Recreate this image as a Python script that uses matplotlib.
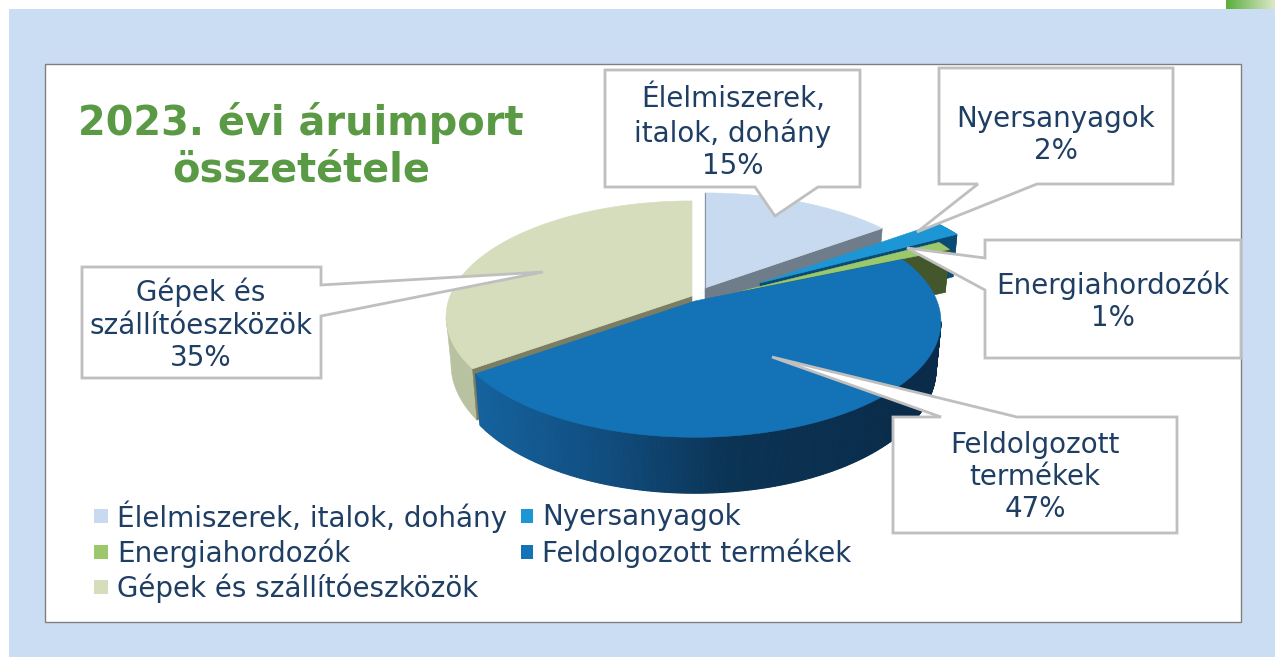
import numpy as np
import matplotlib
matplotlib.use("Agg")
import matplotlib.pyplot as plt
from matplotlib.patches import Polygon, Rectangle
from matplotlib.colors import to_rgb

categories = ["Élelmiszerek, italok, dohány", "Nyersanyagok", "Energiahordozók",
              "Feldolgozott termékek", "Gépek és szállítóeszközök"]
values = [15, 2.2, 1.3, 46.6, 34.9]
callout_names = ["Élelmiszerek,\nitalok, dohány", "Nyersanyagok", "Energiahordozók",
                 "Feldolgozott\ntermékek", "Gépek és\nszállítóeszközök"]
title_text = "2023. évi áruimport\nösszetétele"

top_cols = ["#C8DAEF", "#1C96D4", "#9AC86A", "#1472B6", "#D5DDBC"]
wall_cols = ["#6F7C8A", "#0B4A74", "#44562B", "#14609C", "#B9C2A0"]
centers = [(705, 288), (760, 283), (742, 291), (695, 301), (692, 296)]
TXT = "#1F3E64"
A, B, P, H = 242, 112, 0.178, 46

fig = plt.figure(figsize=(12.75, 6.57), dpi=100, facecolor="white")
ax = fig.add_axes([0, 0, 1, 1])
ax.set_xlim(0, 1275); ax.set_ylim(657, 0); ax.axis("off")

# page background
ax.add_patch(Rectangle((9, 9), 1266, 648, fc="#CBDDF2", ec="none", zorder=0))
ax.imshow(np.linspace(0, 1, 64)[None, :, None] * (np.array(to_rgb("#DDE8C8")) - np.array(to_rgb("#5AAE3C")))[None, None, :]
          + np.array(to_rgb("#5AAE3C"))[None, None, :],
          extent=(1226, 1275, 9, 0), aspect="auto", zorder=0.5)
ax.set_xlim(0, 1275); ax.set_ylim(657, 0)
ax.add_patch(Rectangle((45, 64), 1196, 558, fc="white", ec="#7F7F7F", lw=1, zorder=1))


def proj(cx, cy, ang, r=1.0, drop=False):
    u, v = r * np.sin(ang), r * np.cos(ang)
    d = 1 + P * v
    X, Y = A * u / d, -B * v / d
    if drop:
        return cx + X * 0.98, cy + Y + H / d
    return cx + X, cy + Y


def poly(xs, ys, color, z):
    ax.fill(xs, ys, color=color, lw=0.4, zorder=z)


fracs = np.array(values) / sum(values) * 2 * np.pi
starts = np.concatenate([[0], np.cumsum(fracs)[:-1]])
# angles at which the perspective ellipse reaches its extreme left and right
side_right = np.pi - np.arcsin(P) * 0 - np.arccos(P)
side_left = np.pi + np.arccos(P)


def blue_wall_color(x):
    stops_x = [470, 600, 730, 950]
    stops = np.array([to_rgb("#15639F"), to_rgb("#114E80"), to_rgb("#0B3354"), to_rgb("#0A2A48")])
    return [np.interp(x, stops_x, stops[:, i]) for i in range(3)]


def cut_face(i, ang, z, color=None):
    cx, cy = centers[i]
    x0, y0 = proj(cx, cy, ang)
    x1, y1 = proj(cx, cy, ang, drop=True)
    poly([cx, x0, x1, cx], [cy, y0, y1, cy + H], color or wall_cols[i], z)


def outer_wall(i, a0, a1, z, gradient=False):
    cx, cy = centers[i]
    t = np.linspace(a0, a1, 240)
    xt, yt = proj(cx, cy, t)
    xb, yb = proj(cx, cy, t, drop=True)
    if gradient:
        for k in range(len(t) - 1):
            c = blue_wall_color((xt[k] + xt[k + 1]) / 2)
            ax.fill([xt[k], xt[k + 1], xb[k + 1], xb[k]], [yt[k], yt[k + 1], yb[k + 1], yb[k]],
                    color=c, lw=0.8, zorder=z)
    else:
        poly(np.r_[xt, xb[::-1]], np.r_[yt, yb[::-1]], wall_cols[i], z)


def top_face(i, z):
    cx, cy = centers[i]
    t = np.linspace(starts[i], starts[i] + fracs[i], 160)
    xt, yt = proj(cx, cy, t)
    poly(np.r_[cx, xt], np.r_[cy, yt], top_cols[i], z)


# back to front: each slice's walls, then its top
end = starts + fracs
# Élelmiszerek
cut_face(0, end[0], 2.0); top_face(0, 2.1)
cx0, cy0 = centers[0]
x00, y00 = proj(cx0, cy0, starts[0])
ax.plot([cx0, x00], [cy0, y00], color="#8C949E", lw=0.8, zorder=2.15)
# Nyersanyagok
outer_wall(1, starts[1], end[1], 2.2); cut_face(1, end[1], 2.3); top_face(1, 2.4)
# Energiahordozók
outer_wall(2, starts[2], end[2], 2.5); cut_face(2, end[2], 2.6); top_face(2, 2.7)
# Gépek
outer_wall(4, starts[4], side_left, 2.8)
cut_face(4, starts[4], 2.85, color="#7B7E62"); top_face(4, 2.9)
# Feldolgozott
outer_wall(3, side_right, end[3], 3.0, gradient=True); top_face(3, 3.1)

# callouts: outline in reading order, with pointer
boxes = [
    [(605, 70), (860, 70), (860, 187), (818, 187), (775, 216), (755, 187), (605, 187)],
    [(939, 68), (1173, 68), (1173, 184), (1037, 184), (917, 232), (978, 184), (939, 184)],
    [(985, 240), (1241, 240), (1241, 358), (985, 358), (985, 290), (907, 248), (985, 258)],
    [(893, 417), (941, 417), (772, 357), (1017, 417), (1177, 417), (1177, 533), (893, 533)],
    [(82, 267), (321, 267), (321, 285), (543, 272), (321, 316), (321, 378), (82, 378)],
]
label_pos = [(733, 132), (1056, 135), (1113, 301), (1035, 477), (201, 325)]
for pts, name, val, (lx, ly) in zip(boxes, callout_names, values, label_pos):
    ax.add_patch(Polygon(pts, closed=True, fc="white", ec="#BFBFBF", lw=2, zorder=5, joinstyle="miter"))
    ax.text(lx, ly, f"{name}\n{val:.0f}%", ha="center", va="center", fontsize=20, color=TXT,
            linespacing=1.2, family="DejaVu Sans", zorder=6)

# title
ax.text(301, 146, title_text, ha="center", va="center", fontsize=28.7, fontweight="bold",
        color="#5A9A45", linespacing=1.2, family="DejaVu Sans", zorder=6)

# legend
legend_pos = [(94, 516), (521, 516), (94, 552), (521, 552), (94, 587)]
text_x = [117, 542, 117, 542, 117]
for (x, y), tx, name, col in zip(legend_pos, text_x, categories, top_cols):
    ax.add_patch(Rectangle((x, y - 7), tx - x - 9, 14, fc=col, ec="none", zorder=6))
    ax.text(tx, y + 1, name, ha="left", va="center", fontsize=20, color=TXT,
            family="DejaVu Sans", zorder=6)

fig.savefig("out.png", dpi=100)
